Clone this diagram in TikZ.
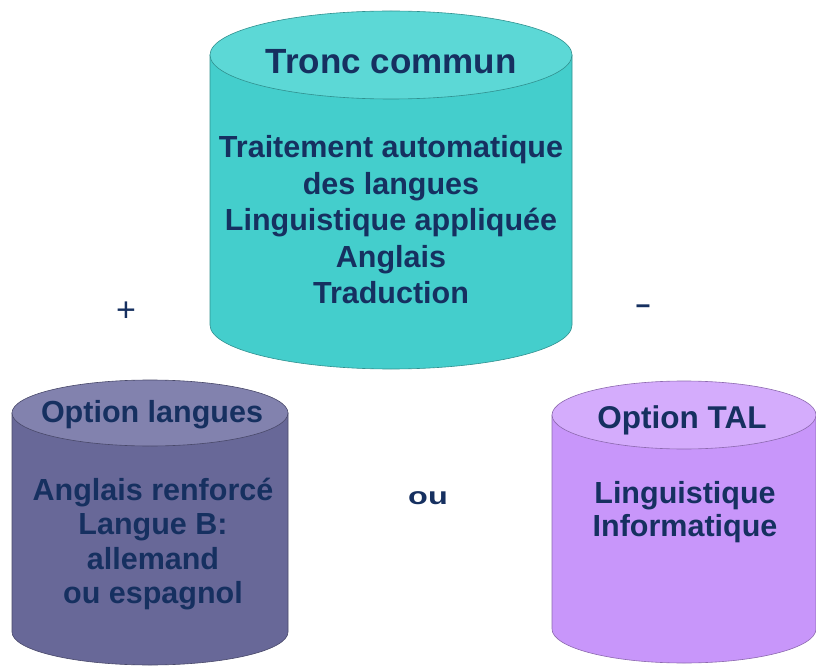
\documentclass[tikz,border=0pt]{standalone}
\usepackage{fontspec}
\setmainfont{Liberation Sans}
\usepackage{tikz}
\usetikzlibrary{positioning}

\definecolor{inktext}{RGB}{22,48,96}
\definecolor{tealbody}{RGB}{68,206,204}
\definecolor{tealtop}{RGB}{92,216,214}
\definecolor{slatebody}{RGB}{104,104,152}
\definecolor{slatetop}{RGB}{130,130,174}
\definecolor{lilacbody}{RGB}{200,150,250}
\definecolor{lilactop}{RGB}{212,172,252}

% cylinder: centre x, top y, bottom y, x radius, y radius, body colour, top colour
\newcommand{\tank}[7]{%
  \filldraw[fill=#6, draw=#6!70!black, line width=0.6pt]
    (#1-#4,#2) -- (#1-#4,#3) arc[start angle=180, end angle=360, x radius=#4pt, y radius=#5pt]
    -- (#1+#4,#2) -- cycle;
  \filldraw[fill=#7, draw=#6!70!black, line width=0.6pt]
    (#1,#2) ellipse[x radius=#4pt, y radius=#5pt];
}

\begin{document}
\begin{tikzpicture}[x=1pt, y=1pt,
    every node/.style={text=inktext, inner sep=0pt, align=center},
    tanktitle/.style={font=\bfseries\fontsize{#1}{#1}\selectfont},
    tankbody/.style={font=\bfseries\fontsize{30.5}{#1}\selectfont}]
    \useasboundingbox (0,0) rectangle (816,665);

    % the three cylinders
    \tank{391}{610}{340}{181}{44}{tealbody}{tealtop}
    \tank{150}{252}{33}{138}{33}{slatebody}{slatetop}
    \tank{684}{250}{36}{132}{34}{lilacbody}{lilactop}

    % tronc commun
    \node[tanktitle=35] (tronc) at (391,603) {Tronc commun};
    \node[tankbody=36.5] (troncbody) at (391,445)
        {Traitement automatique\\des langues\\Linguistique appliquée\\Anglais\\Traduction};

    % option langues
    \node[tanktitle=30.5] (langues) at (152,250) {Option langues};
    \node[tankbody=34.5] (languesbody) at (153,121)
        {Anglais renforcé\\Langue B:\\allemand\\ou espagnol};

    % option TAL
    \node[tanktitle=31.5] (tal) at (682,245) {Option TAL};
    \node[tankbody=33] (talbody) at (685,153) {Linguistique\\Informatique};

    % signs
    \node[font=\fontsize{34}{34}\selectfont] (plus) at (126,353) {+};
    \node[font=\bfseries\fontsize{30}{30}\selectfont] (minus) at (643,356) {\scalebox{1.7}[0.8]{-}};
    \node[font=\bfseries\fontsize{24}{24}\selectfont] (ou) at (428,167) {\scalebox{1.35}[1]{ou}};
\end{tikzpicture}
\end{document}
